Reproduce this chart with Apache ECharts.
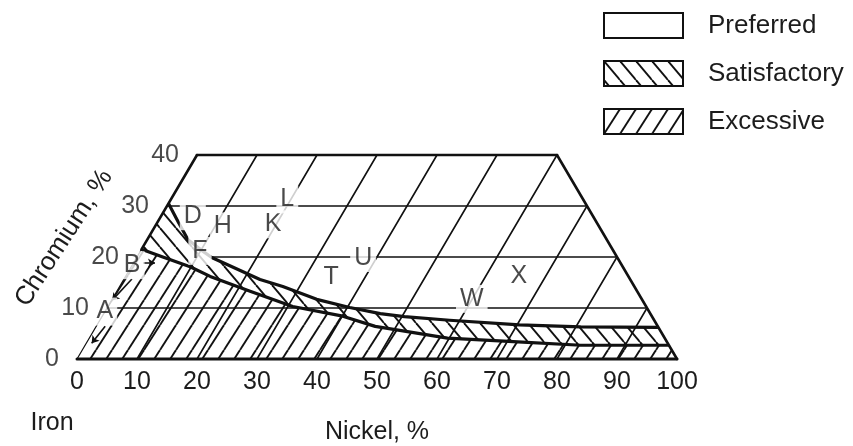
<!DOCTYPE html>
<html>
<head>
<meta charset="utf-8">
<script src="https://cdn.jsdelivr.net/npm/echarts@6/dist/echarts.min.js"></script>
<style>
  html, body { margin: 0; padding: 0; background: #fff; }
  #chart { width: 853px; height: 446px; }
</style>
</head>
<body>
<div id="chart"></div>
<script>
// Fe-Ni-Cr composition field (ternary, truncated at 40 % Cr).
// Points are given as [Ni %, Cr %]; iron is the balance.

const regionNames = ['Preferred', 'Satisfactory', 'Excessive'];

// Boundary between the preferred and satisfactory fields
const preferredEdge = [[0, 30.5], [3.4, 26.9], [6.8, 23.4], [9.8, 21.5], [12.5, 19.9], [22.7, 15.6],
  [27.2, 14.2], [34.1, 11.7], [40.4, 10.1], [46.1, 8.9], [50.4, 8.3], [58.3, 7.6], [70.4, 6.7],
  [80.8, 6.3], [93.8, 6.2]];

// Boundary between the satisfactory and excessive fields
const excessiveEdge = [[0, 21.5], [4.3, 20.0], [9.8, 18.1], [14.1, 16.2], [22.2, 13.3], [30.8, 10.3],
  [40.1, 8.4], [46.5, 6.4], [59.7, 4.1], [71, 3.4], [82.6, 2.7], [97.3, 2.7]];

// Cast heat-resistant alloy designations
const alloyNames = ['A', 'B', 'D', 'F', 'H', 'K', 'L', 'T', 'U', 'W', 'X'];
const alloyNi = [0, 0, 5.3, 9.9, 11.3, 19.5, 19.4, 34.3, 37.8, 59.9, 65.5];
const alloyCr = [9.3, 18.4, 28, 21.2, 26, 26.4, 31.3, 16.1, 19.8, 11.8, 16.3];

// Pointers to compositions lying on the iron-chromium side: [[Ni, Cr] tail, [Ni, Cr] head]
const pointers = [
  [[1.5, 6.4], [0.9, 3.1]],
  [[1.3, 15.7], [0.1, 11.5]],
  [[1.6, 18.8], [3.6, 18.8]]
];

// Chromium scale along the Ni = 0 side
const crTicks = [0, 10, 20, 30, 40];
// Constant-nickel guide lines
const niGrid = [10, 20, 30, 40, 50, 60, 70, 80, 90];
// Constant-chromium guide lines: [Cr, Ni start, Ni end]
const crGrid = [[10, 0, 90], [20, 12.5, 80], [30, 0, 70]];

const CR_TOP = 40;

// ternary [Ni, Cr] -> plotting plane [Ni + Cr/2, Cr]
function tern(p) { return [p[0] + p[1] / 2, p[1]]; }

function hatch(forward) {
  const w = 16, h = forward ? 25 : 19;
  const c = document.createElement('canvas');
  c.width = w; c.height = h;
  const g = c.getContext('2d');
  g.fillStyle = '#fff';
  g.fillRect(0, 0, w, h);
  g.strokeStyle = '#111';
  g.lineWidth = 1.9;
  for (const k of [-1, 0, 1]) {
    g.beginPath();
    if (forward) { g.moveTo(k * w, h); g.lineTo(k * w + w, 0); }
    else { g.moveTo(k * w, 0); g.lineTo(k * w + w, h); }
    g.stroke();
  }
  return { image: c, repeat: 'repeat' };
}

const fills = ['#ffffff', hatch(false), hatch(true)];

// Field outlines in [Ni, Cr]
const topLeft = [0, CR_TOP], topRight = [100 - CR_TOP, CR_TOP];
const rightOf = (cr) => [100 - cr, cr];
const preferredPoly = preferredEdge
  .concat([topRight, topLeft]);
const satisfactoryPoly = excessiveEdge
  .concat([rightOf(preferredEdge[preferredEdge.length - 1][1])])
  .concat(preferredEdge.slice().reverse());
const excessivePoly = [[0, 0], [100, 0]]
  .concat(excessiveEdge.slice().reverse());

function polygonSeries(name, poly, fill) {
  return {
    name: name,
    type: 'custom',
    coordinateSystem: 'cartesian2d',
    z: 1,
    silent: true,
    data: [[0, 0]],
    itemStyle: { color: fill, borderColor: '#111', borderWidth: 2 },
    renderItem: function (params, api) {
      return {
        type: 'polygon',
        shape: { points: poly.map(p => api.coord(tern(p))) },
        style: { fill: fill, stroke: null }
      };
    }
  };
}

// thin guide segments in plotting-plane coordinates
const gridSegs = [];
niGrid.forEach(n => {
  const crEnd = Math.min(CR_TOP, 100 - n);
  gridSegs.push(tern([n, 0]).concat(tern([n, crEnd]), [1.6]));
});
crGrid.forEach(r => {
  gridSegs.push(tern([r[1], r[0]]).concat(tern([r[2], r[0]]), [1.6]));
});
// outer frame
gridSegs.push(tern([0, 0]).concat(tern([100, 0]), [3]));
gridSegs.push(tern([100, 0]).concat(tern(topRight), [2.6]));
gridSegs.push(tern(topRight).concat(tern(topLeft), [2.6]));
gridSegs.push(tern(topLeft).concat(tern([0, 21.5]), [2.6]));
gridSegs.push(tern([0, 21.5]).concat(tern([0, 0]), [1.2]));

const chart = echarts.init(document.getElementById('chart'), null, { renderer: 'canvas' });

const FONT = 'Liberation Sans, Arial, Helvetica, sans-serif';
const INK = '#1c1c1c';

chart.setOption({
  animation: false,
  backgroundColor: '#fff',
  textStyle: { fontFamily: FONT },
  grid: { left: 77, top: 155, width: 600, height: 206 },
  legend: {
    orient: 'vertical',
    left: 603, top: 12,
    padding: 0,
    itemWidth: 79, itemHeight: 25, itemGap: 21,
    icon: 'rect',
    selectedMode: false,
    textStyle: { fontSize: 26, color: INK, fontFamily: FONT, padding: [0, 0, 0, 20] },
    data: regionNames.map((n, i) => ({
      name: n,
      itemStyle: { color: fills[i], borderColor: '#111', borderWidth: 2 }
    }))
  },
  xAxis: {
    type: 'value', min: 0, max: 100, interval: 10,
    axisLine: { show: false }, axisTick: { show: false }, splitLine: { show: false },
    axisLabel: { fontSize: 25, color: INK, margin: 11, fontFamily: FONT },
    name: 'Nickel, %', nameLocation: 'middle', nameGap: 61,
    nameTextStyle: { fontSize: 25, color: INK, fontFamily: FONT }
  },
  yAxis: { type: 'value', min: 0, max: 40, show: false },
  graphic: [
    {
      type: 'text', x: 52, y: 423,
      style: { text: 'Iron', fontSize: 25, fontFamily: FONT, fill: INK, align: 'center', verticalAlign: 'middle' }
    },
    {
      type: 'text', x: 64, y: 238, rotation: 57 * Math.PI / 180,
      style: { text: 'Chromium, %', fontSize: 26, fontFamily: FONT, fill: INK, align: 'center', verticalAlign: 'middle' }
    }
  ],
  series: [
    polygonSeries(regionNames[0], preferredPoly, fills[0]),
    polygonSeries(regionNames[1], satisfactoryPoly, fills[1]),
    polygonSeries(regionNames[2], excessivePoly, fills[2]),
    {
      type: 'custom', coordinateSystem: 'cartesian2d', z: 3, silent: true,
      data: gridSegs,
      renderItem: function (params, api) {
        const a = api.coord([api.value(0), api.value(1)]);
        const b = api.coord([api.value(2), api.value(3)]);
        return {
          type: 'line',
          shape: { x1: a[0], y1: a[1], x2: b[0], y2: b[1] },
          style: { stroke: '#111', lineWidth: api.value(4), lineCap: 'round' }
        };
      }
    },
    {
      type: 'custom', coordinateSystem: 'cartesian2d', z: 4, silent: true,
      data: [[0, 0], [1, 1]],
      renderItem: function (params, api) {
        const edge = params.dataIndex === 0 ? preferredEdge : excessiveEdge;
        return {
          type: 'polyline',
          shape: { points: edge.map(p => api.coord(tern(p))) },
          style: { stroke: '#111', lineWidth: 3.2, fill: null, lineJoin: 'round' }
        };
      }
    },
    {
      type: 'lines', coordinateSystem: 'cartesian2d', z: 4, silent: true,
      symbol: ['none', 'arrow'], symbolSize: 7,
      lineStyle: { color: '#111', width: 1.6, opacity: 1 },
      data: pointers.map(p => ({ coords: [tern(p[0]), tern(p[1])] }))
    },
    {
      type: 'scatter', z: 6, silent: true, symbolSize: 0,
      data: crTicks.map(c => tern([0, c])),
      label: {
        show: true, position: 'left', distance: 18,
        fontSize: 25, color: INK, fontFamily: FONT,
        formatter: p => String(p.value[1])
      }
    },
    {
      type: 'scatter', z: 7, silent: true, symbolSize: 0,
      data: alloyNames.map((n, i) => ({ name: n, value: tern([alloyNi[i], alloyCr[i]]) })),
      label: {
        show: true, position: 'inside',
        fontSize: 25, color: INK, fontFamily: FONT,
        backgroundColor: '#fff', padding: [2, 4], lineHeight: 24,
        formatter: p => p.name
      }
    }
  ]
});
</script>
</body>
</html>
